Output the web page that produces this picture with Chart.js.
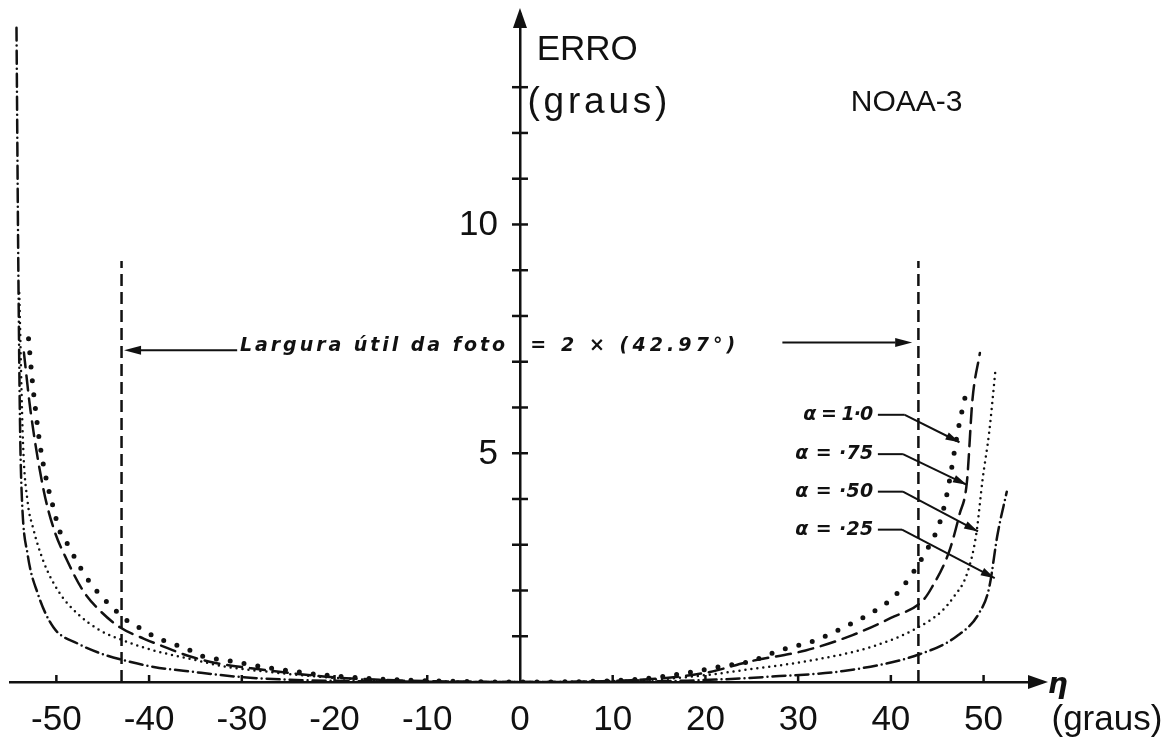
<!DOCTYPE html>
<html>
<head>
<meta charset="utf-8">
<title>NOAA-3 - erro</title>
<script src="https://cdn.jsdelivr.net/npm/chart.js@4.4.0/dist/chart.umd.min.js"></script>
<style>
  html, body { margin: 0; padding: 0; background: #fff; }
  #wrap { width: 1172px; height: 741px; }
</style>
</head>
<body>
<div id="wrap"><canvas id="erroChart"></canvas></div>
<script>
// curves: eta (graus) -> erro (graus)
// alpha = 1.0 (big dots)
const a100X = [-53.0, -52.6, -52.3, -51.7, -50.9, -50.3, -49.7, -48.7, -47.7, -46.7, -45.4, -44.0, -42.5, -40.9, -39.2, -37.5, -35.8, -34.3, -31.0, -29.4, -27.7, -25.0, -22.0, -18.0, -12.0, 0, 12.0, 18.0, 22.0, 24.8, 28.0, 31.7, 34.9, 38.6, 40.2, 41.5, 43.6, 45.3, 46.1, 47.3, 48.3];
const a100Y = [7.5, 6.6, 6.04, 5.1, 4.26, 3.79, 3.33, 2.98, 2.6, 2.27, 1.93, 1.64, 1.36, 1.17, 0.97, 0.84, 0.71, 0.57, 0.45, 0.39, 0.33, 0.25, 0.17, 0.10, 0.04, 0, 0.05, 0.20, 0.35, 0.45, 0.69, 0.90, 1.19, 1.6, 1.84, 2.14, 2.79, 3.5, 4.16, 5.56, 6.49];

// alpha = .75 (long dashes)
const a075X = [-53.5, -52.8, -51.4, -50.3, -48.8, -47.1, -45.3, -43.1, -40.6, -38.0, -35.9, -32.7, -29.0, -25.0, -20.0, -12.0, 0, 12.0, 20.0, 24.8, 30.8, 35.8, 40.0, 43.4, 44.4, 46.3, 47.4, 48.2, 48.8, 49.6];
const a075Y = [7.2, 5.95, 4.22, 3.36, 2.64, 1.99, 1.56, 1.19, 0.95, 0.74, 0.58, 0.41, 0.30, 0.20, 0.10, 0.03, 0, 0.04, 0.20, 0.45, 0.69, 1.02, 1.4, 1.77, 2.06, 2.86, 3.66, 4.37, 6.17, 7.19];

// alpha = .50 (small dots)
const a050X = [-54.0, -53.6, -53.1, -52.5, -51.4, -49.8, -47.7, -45.3, -42.8, -39.5, -35.9, -31.6, -27.0, -22.0, -15.0, 0, 15.0, 20.0, 24.8, 30.8, 38.1, 43.0, 45.5, 46.7, 48.2, 49.2, 49.9, 50.6, 51.3];
const a050Y = [8.5, 5.24, 3.94, 3.36, 2.64, 1.99, 1.49, 1.13, 0.91, 0.69, 0.52, 0.33, 0.22, 0.12, 0.04, 0, 0.06, 0.15, 0.28, 0.45, 0.78, 1.2, 1.55, 1.84, 2.36, 3.22, 4.44, 5.45, 6.86];

// alpha = .25 (dash-dot)
const a025X = [-54.3, -54.1, -53.9, -53.7, -53.1, -52.0, -50.3, -47.7, -45.3, -42.8, -39.5, -35.2, -30.2, -25.0, -18.0, 0, 18.0, 28.0, 34.9, 43.0, 47.1, 49.5, 50.6, 51.5, 52.5];
const a025Y = [14.3, 9.0, 5.39, 3.94, 2.79, 1.93, 1.19, 0.84, 0.63, 0.48, 0.33, 0.22, 0.11, 0.05, 0.02, 0, 0.03, 0.13, 0.24, 0.6, 1.0, 1.5, 2.06, 3.22, 4.16];

// useful photo width: 2 x 42.97 graus
const usefulHalf = 42.97;
const usefulTop = 9.2;

const xTicks = [-50, -40, -30, -20, -10, 0, 10, 20, 30, 40, 50];
const yTicks = [1, 2, 3, 4, 5, 6, 7, 8, 9, 10, 11, 12, 13];
const yLabels = [5, 10];

const alphaNames = ['α = 1·0', 'α = ·75', 'α = ·50', 'α = ·25'];

const ink = '#111';
const fontMain = '"Liberation Sans", Arial, sans-serif';
const fontHand = '"DejaVu Sans", sans-serif';

function pts(xs, ys) {
    return xs.map((v, i) => ({x: v, y: ys[i]}));
}

function curve(label, xs, ys, dash, width) {
    return {
        label: label,
        data: pts(xs, ys),
        borderColor: ink,
        borderWidth: width,
        borderDash: dash,
        borderCapStyle: 'round',
        pointRadius: 0,
        fill: false,
        cubicInterpolationMode: 'monotone'
    };
}

function usefulLine(side) {
    return {
        label: 'largura ' + side,
        data: [{x: side * usefulHalf, y: 0}, {x: side * usefulHalf, y: usefulTop}],
        borderColor: ink,
        borderWidth: 2.5,
        borderDash: [12, 6],
        pointRadius: 0,
        fill: false
    };
}

// annotation layout, in data units (graus)
const leaders = [
    {text: alphaNames[0], y: 5.84, knee: 41.5, tipX: 47.4, tipY: 5.24, w: 70},
    {text: alphaNames[1], y: 4.98, knee: 41.3, tipX: 48.2, tipY: 4.31, w: 78},
    {text: alphaNames[2], y: 4.16, knee: 41.3, tipX: 49.4, tipY: 3.29, w: 78},
    {text: alphaNames[3], y: 3.33, knee: 41.2, tipX: 51.2, tipY: 2.27, w: 78}
];

function line(ctx, x1, y1, x2, y2) {
    ctx.beginPath();
    ctx.moveTo(x1, y1);
    ctx.lineTo(x2, y2);
    ctx.stroke();
}

function head(ctx, tx, ty, ang, len, half) {
    ctx.beginPath();
    ctx.moveTo(tx, ty);
    ctx.lineTo(tx - len * Math.cos(ang) - half * Math.sin(ang), ty - len * Math.sin(ang) + half * Math.cos(ang));
    ctx.lineTo(tx - len * Math.cos(ang) + half * Math.sin(ang), ty - len * Math.sin(ang) - half * Math.cos(ang));
    ctx.closePath();
    ctx.fill();
}

// draw text with its left edge at x, stretched to a given width
function fitText(ctx, txt, x, y, width) {
    ctx.letterSpacing = '0px';
    const w = ctx.measureText(txt).width;
    const n = [...txt].length;
    const sp = (width - w) / Math.max(1, n - 1);
    ctx.letterSpacing = sp.toFixed(2) + 'px';
    ctx.textAlign = 'left';
    ctx.fillText(txt, x, y);
    ctx.letterSpacing = '0px';
}

const overlay = {
    id: 'overlay',
    afterDraw(chart) {
        const ctx = chart.ctx;
        const sx = chart.scales.x, sy = chart.scales.y;
        const px = v => sx.getPixelForValue(v);
        const py = v => sy.getPixelForValue(v);
        const x0 = px(0), y0 = py(0);

        ctx.save();
        ctx.strokeStyle = ink;
        ctx.fillStyle = ink;
        ctx.lineWidth = 2.5;

        // cross ticks on the erro axis
        yTicks.forEach(v => line(ctx, x0 - 8, py(v), x0 + 8, py(v)));
        // small upward ticks on the eta axis
        xTicks.forEach(v => { if (v !== 0) line(ctx, px(v), y0, px(v), y0 - 7); });

        // erro axis labels, left of the axis
        ctx.font = '35px ' + fontMain;
        ctx.textAlign = 'right';
        ctx.textBaseline = 'middle';
        yLabels.forEach(v => ctx.fillText(String(v), x0 - 22, py(v) + 1));

        // axis arrow heads
        head(ctx, x0, sy.top - 6, -Math.PI / 2, 20, 7);
        head(ctx, sx.right + 6, y0, 0, 20, 7);

        // axis titles
        ctx.font = '35px ' + fontMain;
        ctx.textAlign = 'left';
        ctx.fillText('ERRO', px(1.8), py(13.8));
        ctx.font = '37px ' + fontMain;
        fitText(ctx, '(graus)', px(0.8), py(12.66), 140);
        ctx.font = '30px ' + fontMain;
        ctx.textAlign = 'center';
        ctx.fillText('NOAA-3', px(41.7), py(12.66));
        ctx.font = '35px ' + fontMain;
        ctx.fillText('(graus)', px(63.3), y0 + 38);
        ctx.font = 'italic bold 28px ' + fontHand;
        ctx.fillText('η', px(58.0), y0 + 4);

        // useful width arrows + text
        ctx.lineWidth = 2;
        line(ctx, px(-30.5), py(7.25), px(-41.0), py(7.25));
        head(ctx, px(-42.7), py(7.25), Math.PI, 17, 4.5);
        line(ctx, px(28.3), py(7.42), px(40.5), py(7.42));
        head(ctx, px(42.3), py(7.42), 0, 17, 4.5);

        ctx.font = 'italic bold 19px ' + fontHand;
        fitText(ctx, 'Largura útil da foto', px(-30.2), py(7.34), 265);
        fitText(ctx, '= 2 × (42.97°)', px(1.1), py(7.34), 205);

        // alpha leaders
        ctx.lineWidth = 2;
        ctx.font = 'italic bold 19px ' + fontHand;
        leaders.forEach(l => {
            const ly = py(l.y);
            fitText(ctx, l.text, px(38.1) - l.w, ly, l.w);
            const kx = px(l.knee);
            const tx = px(l.tipX), ty = py(l.tipY);
            line(ctx, px(38.6), ly, kx, ly);
            line(ctx, kx, ly, tx, ty);
            head(ctx, tx, ty, Math.atan2(ty - ly, tx - kx), 14, 4);
        });

        ctx.restore();
    }
};

new Chart(document.getElementById('erroChart').getContext('2d'), {
    type: 'line',
    data: {
        datasets: [
            curve('α = 1.0', a100X, a100Y, [0, 14], 5),
            curve('α = .75', a075X, a075Y, [15, 8], 2.5),
            curve('α = .50', a050X, a050Y, [0, 6], 2.5),
            curve('α = .25', a025X, a025Y, [13, 5, 0, 5], 2.5),
            usefulLine(-1),
            usefulLine(1)
        ]
    },
    options: {
        responsive: true,
        maintainAspectRatio: false,
        animation: false,
        layout: {
            padding: {left: 10, right: 130, top: 14, bottom: 0}
        },
        plugins: {
            legend: {display: false},
            tooltip: {enabled: false},
            title: {display: false}
        },
        scales: {
            x: {
                type: 'linear',
                position: 'bottom',
                min: -55,
                max: 56.3,
                grid: {display: true, drawOnChartArea: false, drawTicks: false},
                border: {display: true, color: ink, width: 2.5},
                ticks: {
                    stepSize: 10,
                    includeBounds: false,
                    padding: 17,
                    color: ink,
                    font: {family: fontMain, size: 35},
                    callback: v => (v % 10 === 0 ? String(v) : '')
                },
                afterFit: s => { s.height = 59; s.paddingLeft = 0; s.paddingRight = 0; }
            },
            y: {
                type: 'linear',
                position: {x: 0},
                min: 0,
                max: 14.6,
                grid: {display: true, drawOnChartArea: false, drawTicks: false},
                border: {display: true, color: ink, width: 2.5},
                ticks: {stepSize: 1, includeBounds: false, display: false},
                afterFit: s => { s.width = 0; s.paddingTop = 0; s.paddingBottom = 0; }
            }
        }
    },
    plugins: [overlay]
});
</script>
</body>
</html>
